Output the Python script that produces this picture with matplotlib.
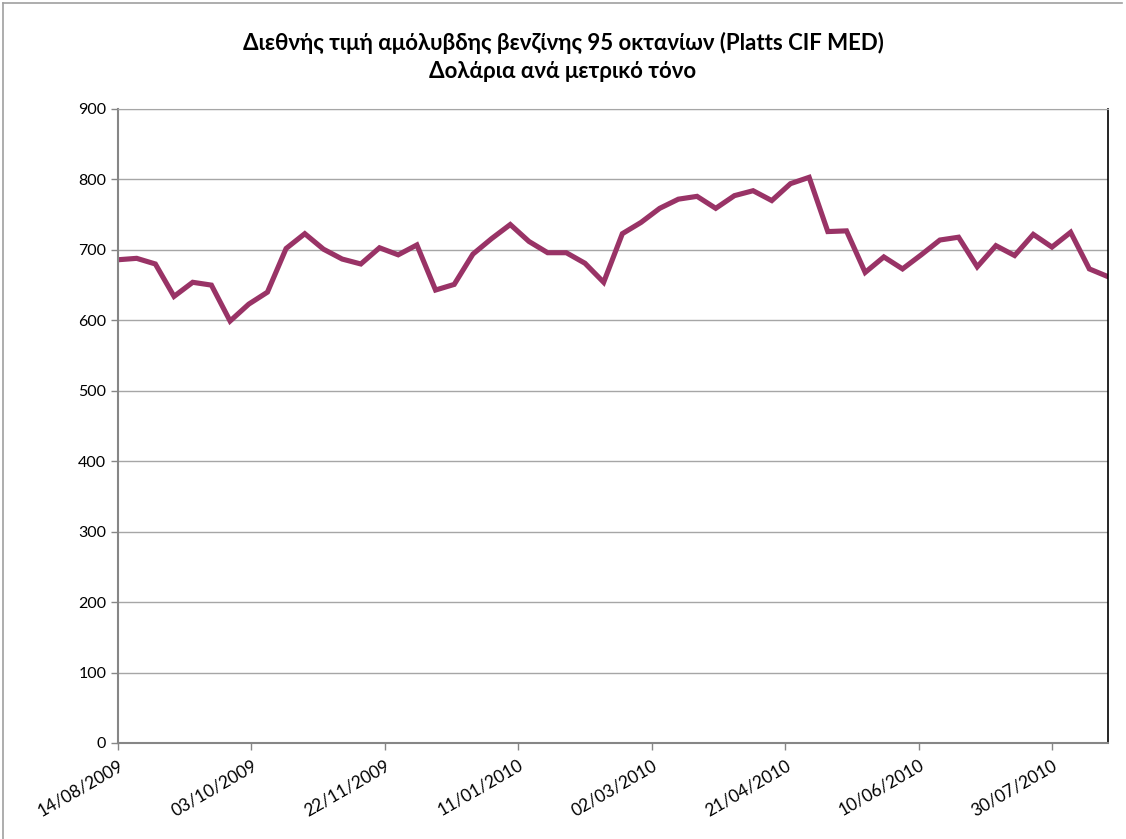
import matplotlib.pyplot as plt
import matplotlib.dates as mdates
import numpy as np
import datetime as dt
from matplotlib.lines import Line2D

# weekly prices, starting 14/08/2009
start = dt.date(2009, 8, 14)
prices = [686, 688, 680, 634, 654, 650, 599, 623, 640, 702,
          723, 701, 687, 680, 703, 693, 707, 643, 651, 694,
          716, 736, 712, 696, 696, 681, 654, 723, 739, 759,
          772, 776, 759, 777, 784, 770, 794, 803, 726, 727,
          668, 690, 673, 693, 714, 718, 676, 706, 692, 722,
          704, 725, 673, 662]
dates = [start + dt.timedelta(days=7 * i) for i in range(len(prices))]
tick_dates = [start + dt.timedelta(days=50 * i) for i in range(8)]
title = "Διεθνής τιμή αμόλυβδης βενζίνης 95 οκτανίων (Platts CIF MED)\nΔολάρια ανά μετρικό τόνο"

plt.rcParams['font.family'] = ['Lato', 'DejaVu Sans']

fig = plt.figure(figsize=(11.26, 8.39), dpi=100)
W, H = 1126, 839
ax = fig.add_axes([118 / W, 1 - 743 / H, (1108 - 118) / W, (743 - 109) / H])

ax.plot(dates, prices, color='#993366', lw=3.7, solid_joinstyle='miter')

ax.set_xlim(dates[0], dates[-1])
ax.set_ylim(0, 900)
ax.set_yticks(np.arange(0, 901, 100))
ax.yaxis.grid(True, color='#a6a6a6', lw=1)
ax.set_axisbelow(True)

ax.set_xticks(tick_dates)
ax.xaxis.set_major_formatter(mdates.DateFormatter('%d/%m/%Y'))
for lab in ax.get_xticklabels():
    lab.set_rotation(30)
    lab.set_ha('right')
    lab.set_rotation_mode('anchor')
    lab.set_fontsize(12.5)
for lab in ax.get_yticklabels():
    lab.set_fontsize(11.5)

ax.tick_params(axis='both', direction='out', length=5, color='#868686', width=1)
ax.tick_params(axis='x', pad=5)
ax.spines['left'].set_color('#868686')
ax.spines['bottom'].set_color('#868686')
ax.spines['left'].set_linewidth(1.5)
ax.spines['bottom'].set_linewidth(1.5)
ax.spines['top'].set_color('#a6a6a6')
ax.spines['right'].set_color('black')
ax.spines['right'].set_linewidth(1.2)

fig.text(0.5, 1 - 57 / H, title, ha='center', va='center', fontsize=16,
         fontweight='bold', linespacing=1.45)

# outer chart frame (top and left edges visible)
fig.add_artist(Line2D([3 / W, 1122 / W], [1 - 3 / H, 1 - 3 / H], color='#a0a0a0', lw=1.2))
fig.add_artist(Line2D([3 / W, 3 / W], [1 - 3 / H, 0], color='#a0a0a0', lw=1.2))

fig.savefig('out.png', dpi=100)
